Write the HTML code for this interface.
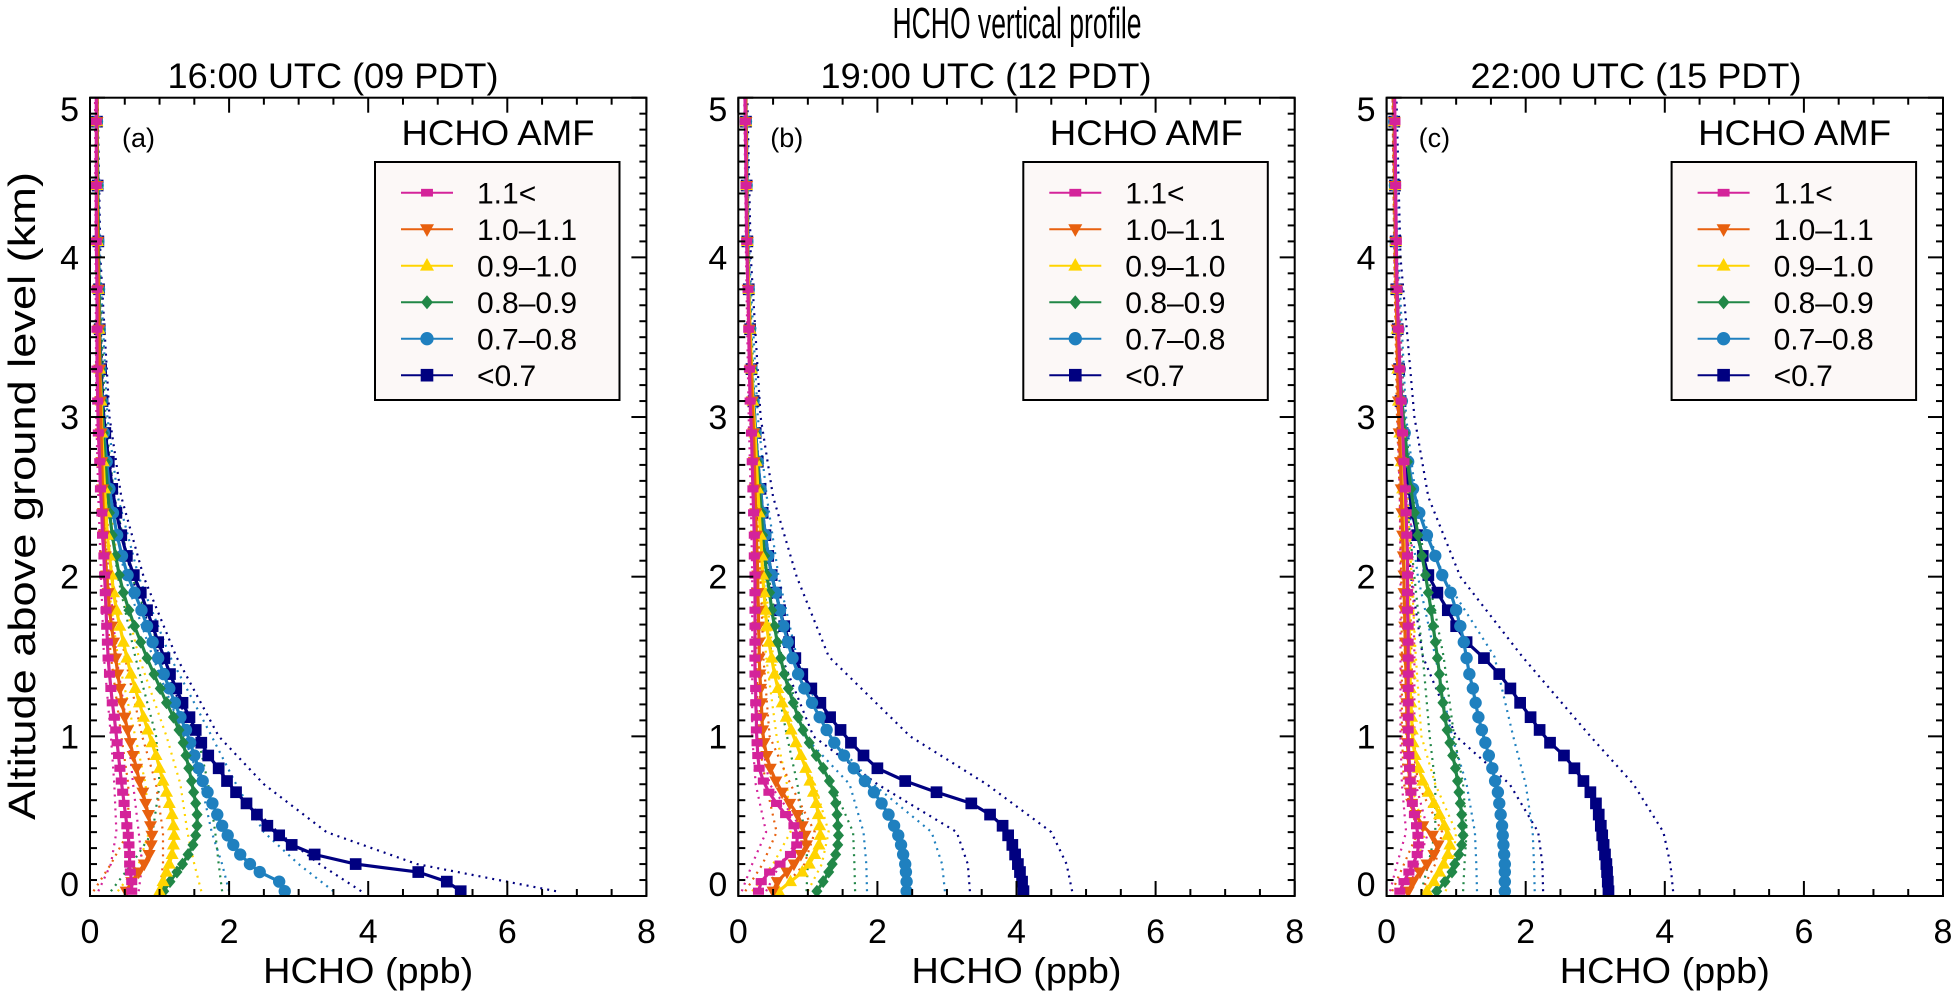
<!DOCTYPE html>
<html><head><meta charset="utf-8"><title>HCHO vertical profile</title>
<style>
html,body{margin:0;padding:0;background:#fff;}
svg{display:block;font-family:"Liberation Sans",Arial,sans-serif;}
</style></head>
<body>
<svg id="chart" width="1957" height="992" viewBox="0 0 1957 992" xmlns="http://www.w3.org/2000/svg">
<text x="1017" y="38" font-size="44" text-anchor="middle" textLength="249" lengthAdjust="spacingAndGlyphs">HCHO vertical profile</text>
<text transform="translate(35,496) rotate(-90)" font-size="38" text-anchor="middle" textLength="648" lengthAdjust="spacingAndGlyphs">Altitude above ground level (km)</text>
<g id="panels"></g>
</svg>
<script>
// ---- data ----
const altitudes = [0.03,0.09,0.15,0.2,0.26,0.32,0.38,0.44,0.51,0.58,0.65,0.72,0.8,0.88,0.96,1.04,1.12,1.21,1.3,1.39,1.49,1.59,1.69,1.79,1.9,2.01,2.13,2.26,2.4,2.55,2.72,2.9,3.1,3.3,3.55,3.8,4.1,4.45,4.85,5.2];
const dotAltitudes = [0.03,0.2,0.4,0.7,1.0,1.5,2.0,2.5,3.0,4.0,5.2];
const amfBins = ["1.1<","1.0\u20131.1","0.9\u20131.0","0.8\u20130.9","0.7\u20130.8","<0.7"];
const panelTitles = ["16:00 UTC (09 PDT)","19:00 UTC (12 PDT)","22:00 UTC (15 PDT)"];
const panelLetters = ["(a)","(b)","(c)"];
const xTickLabels = [0,2,4,6,8];
const yTickLabels = [0,1,2,3,4,5];

// panel a (order: pink, orange, yellow, green, lightblue, navy)
const a_pink   = [0.6,0.6,0.58,0.57,0.57,0.56,0.55,0.53,0.51,0.49,0.47,0.45,0.43,0.41,0.39,0.37,0.35,0.32,0.3,0.28,0.26,0.25,0.24,0.23,0.22,0.21,0.2,0.18,0.17,0.15,0.14,0.12,0.11,0.1,0.1,0.1,0.09,0.09,0.09,0.09];
const a_orange = [0.52,0.6,0.7,0.78,0.85,0.88,0.89,0.87,0.84,0.8,0.76,0.71,0.67,0.62,0.58,0.54,0.5,0.46,0.43,0.4,0.37,0.34,0.31,0.28,0.26,0.24,0.22,0.2,0.19,0.18,0.17,0.16,0.15,0.14,0.13,0.12,0.11,0.1,0.1,0.1];
const a_yellow = [1.0,1.05,1.1,1.14,1.18,1.2,1.21,1.2,1.18,1.14,1.1,1.05,1.0,0.95,0.89,0.83,0.77,0.71,0.65,0.59,0.53,0.48,0.43,0.38,0.34,0.31,0.28,0.25,0.23,0.21,0.19,0.17,0.16,0.14,0.13,0.12,0.11,0.1,0.1,0.1];
const a_green  = [1.06,1.15,1.25,1.33,1.41,1.48,1.52,1.54,1.54,1.52,1.49,1.46,1.42,1.38,1.34,1.28,1.2,1.1,1.01,0.92,0.82,0.73,0.64,0.56,0.48,0.42,0.37,0.32,0.28,0.25,0.22,0.19,0.17,0.15,0.14,0.13,0.12,0.11,0.1,0.1];
const a_lblue  = [2.8,2.72,2.44,2.3,2.16,2.06,1.98,1.9,1.83,1.76,1.69,1.62,1.56,1.5,1.44,1.38,1.3,1.22,1.14,1.06,0.98,0.9,0.82,0.74,0.64,0.54,0.46,0.39,0.33,0.28,0.24,0.2,0.17,0.15,0.14,0.13,0.12,0.11,0.1,0.1];
const a_navy   = [5.33,5.13,4.72,3.82,3.23,2.9,2.72,2.55,2.4,2.25,2.1,1.97,1.85,1.7,1.6,1.52,1.43,1.33,1.24,1.15,1.07,0.98,0.9,0.82,0.73,0.63,0.53,0.45,0.38,0.32,0.27,0.22,0.18,0.16,0.14,0.13,0.12,0.11,0.1,0.1];
const a_pink_hi=[0.7,0.75,0.7,0.62,0.55,0.38,0.28,0.2,0.14,0.1,0.09], a_pink_lo=[0.12,0.3,0.38,0.35,0.3,0.2,0.16,0.12,0.09,0.08,0.07];
const a_orange_hi=[1.0,1.05,1.05,0.95,0.75,0.5,0.32,0.22,0.16,0.11,0.1], a_orange_lo=[0.05,0.3,0.55,0.55,0.45,0.3,0.2,0.15,0.11,0.09,0.08];
const a_yellow_hi=[1.6,1.5,1.4,1.3,1.1,0.7,0.42,0.28,0.18,0.12,0.1], a_yellow_lo=[0.4,0.7,0.85,0.8,0.65,0.4,0.25,0.18,0.13,0.1,0.09];
const a_green_hi=[1.9,1.85,1.8,1.7,1.55,1.05,0.6,0.35,0.22,0.13,0.1], a_green_lo=[0.3,0.6,0.9,1.0,0.95,0.65,0.4,0.25,0.16,0.11,0.1];
const a_lblue_hi=[3.5,3.0,2.5,2.1,1.75,1.15,0.7,0.4,0.25,0.14,0.1], a_lblue_lo=[2.0,1.9,1.75,1.6,1.35,0.9,0.5,0.3,0.18,0.12,0.1];
const a_navy_hi=[6.7,4.7,3.4,2.5,1.85,1.24,0.77,0.45,0.28,0.15,0.1], a_navy_lo=[3.9,3.3,2.7,2.0,1.5,1.0,0.6,0.35,0.2,0.12,0.1];

// panel b
const b_pink   = [0.29,0.33,0.45,0.6,0.75,0.84,0.85,0.8,0.68,0.55,0.44,0.36,0.3,0.28,0.27,0.26,0.26,0.25,0.25,0.24,0.24,0.24,0.24,0.24,0.24,0.24,0.23,0.23,0.22,0.21,0.2,0.19,0.17,0.16,0.15,0.14,0.12,0.11,0.1,0.09];
const b_orange = [0.5,0.56,0.7,0.8,0.9,0.98,0.96,0.92,0.85,0.74,0.63,0.54,0.46,0.41,0.37,0.35,0.34,0.33,0.32,0.31,0.3,0.3,0.29,0.29,0.28,0.28,0.27,0.26,0.25,0.24,0.23,0.22,0.2,0.18,0.16,0.14,0.13,0.12,0.11,0.1];
const b_yellow = [0.58,0.75,0.92,1.02,1.1,1.16,1.18,1.17,1.15,1.12,1.08,1.03,0.97,0.9,0.83,0.76,0.69,0.63,0.57,0.52,0.48,0.44,0.41,0.39,0.37,0.35,0.34,0.32,0.3,0.28,0.26,0.24,0.21,0.19,0.17,0.15,0.13,0.12,0.11,0.1];
const b_green  = [1.13,1.22,1.3,1.35,1.4,1.43,1.44,1.43,1.42,1.4,1.37,1.31,1.22,1.12,1.02,0.93,0.86,0.79,0.72,0.66,0.61,0.56,0.52,0.48,0.45,0.41,0.38,0.35,0.33,0.3,0.27,0.24,0.21,0.19,0.17,0.15,0.13,0.12,0.11,0.1];
const b_lblue  = [2.42,2.42,2.41,2.4,2.37,2.34,2.3,2.24,2.16,2.06,1.95,1.82,1.66,1.52,1.38,1.27,1.17,1.06,0.95,0.86,0.78,0.71,0.65,0.6,0.54,0.48,0.43,0.39,0.35,0.32,0.28,0.25,0.22,0.19,0.17,0.15,0.13,0.12,0.11,0.1];
const b_navy   = [4.1,4.08,4.05,4.02,3.98,3.94,3.88,3.8,3.62,3.35,2.85,2.4,2.0,1.8,1.62,1.47,1.32,1.18,1.05,0.92,0.82,0.73,0.66,0.6,0.54,0.48,0.43,0.39,0.35,0.32,0.28,0.25,0.22,0.19,0.17,0.15,0.13,0.12,0.11,0.1];
const b_pink_hi=[0.4,0.6,0.95,0.45,0.32,0.3,0.28,0.25,0.19,0.13,0.1], b_pink_lo=[0.05,0.2,0.4,0.25,0.2,0.2,0.2,0.18,0.15,0.11,0.08];
const b_orange_hi=[0.6,0.95,1.1,0.75,0.45,0.36,0.32,0.27,0.2,0.13,0.1], b_orange_lo=[0.1,0.35,0.55,0.4,0.28,0.26,0.24,0.22,0.17,0.12,0.09];
const b_yellow_hi=[1.0,1.2,1.3,1.1,0.8,0.5,0.38,0.3,0.22,0.14,0.1], b_yellow_lo=[0.2,0.5,0.75,0.7,0.55,0.4,0.32,0.26,0.2,0.13,0.09];
const b_green_hi=[1.68,1.67,1.65,1.35,0.98,0.62,0.44,0.33,0.24,0.15,0.11], b_green_lo=[0.98,1.0,0.95,0.85,0.7,0.48,0.36,0.28,0.2,0.13,0.1];
const b_lblue_hi=[2.97,2.93,2.78,1.94,1.32,0.84,0.58,0.41,0.28,0.16,0.11], b_lblue_lo=[1.85,1.84,1.8,1.6,0.95,0.6,0.4,0.3,0.22,0.14,0.1];
const b_navy_hi=[4.8,4.72,4.5,3.57,2.47,1.3,0.84,0.5,0.32,0.18,0.12], b_navy_lo=[3.33,3.3,3.14,2.0,1.08,0.62,0.43,0.3,0.22,0.14,0.1];

// panel c
const c_pink   = [0.19,0.25,0.32,0.38,0.44,0.46,0.45,0.43,0.4,0.37,0.35,0.34,0.33,0.32,0.31,0.31,0.31,0.31,0.31,0.31,0.31,0.31,0.31,0.3,0.3,0.3,0.3,0.29,0.28,0.27,0.25,0.23,0.21,0.19,0.17,0.15,0.14,0.13,0.12,0.11];
const c_orange = [0.31,0.38,0.48,0.58,0.68,0.74,0.66,0.52,0.42,0.36,0.34,0.33,0.32,0.31,0.3,0.3,0.29,0.29,0.28,0.28,0.27,0.27,0.26,0.26,0.25,0.25,0.24,0.23,0.22,0.21,0.2,0.18,0.17,0.16,0.15,0.14,0.13,0.12,0.11,0.1];
const c_yellow = [0.58,0.68,0.76,0.82,0.88,0.91,0.88,0.83,0.76,0.68,0.6,0.52,0.46,0.41,0.38,0.37,0.36,0.35,0.34,0.34,0.33,0.33,0.32,0.32,0.31,0.3,0.29,0.27,0.25,0.23,0.21,0.19,0.17,0.16,0.15,0.14,0.13,0.12,0.11,0.1];
const c_green  = [0.72,0.84,0.94,0.98,1.04,1.08,1.1,1.09,1.08,1.06,1.04,1.02,0.99,0.95,0.91,0.87,0.84,0.81,0.78,0.76,0.73,0.7,0.67,0.64,0.6,0.56,0.51,0.45,0.4,0.35,0.3,0.26,0.22,0.19,0.17,0.15,0.13,0.12,0.11,0.1];
const c_lblue  = [1.7,1.7,1.7,1.7,1.69,1.68,1.67,1.66,1.64,1.62,1.6,1.56,1.52,1.47,1.42,1.37,1.32,1.28,1.24,1.19,1.15,1.11,1.06,1.0,0.92,0.8,0.7,0.58,0.47,0.38,0.31,0.26,0.22,0.19,0.17,0.15,0.13,0.12,0.11,0.1];
const c_navy   = [3.19,3.18,3.17,3.16,3.14,3.12,3.1,3.08,3.05,3.01,2.93,2.83,2.7,2.55,2.35,2.2,2.07,1.92,1.78,1.62,1.4,1.15,1.0,0.88,0.73,0.6,0.52,0.44,0.37,0.32,0.27,0.23,0.2,0.18,0.16,0.14,0.13,0.12,0.11,0.1];
const c_pink_hi=[0.3,0.45,0.6,0.42,0.4,0.4,0.38,0.33,0.25,0.15,0.11], c_pink_lo=[0.05,0.15,0.28,0.22,0.2,0.2,0.2,0.19,0.16,0.11,0.08];
const c_orange_hi=[0.5,0.7,0.8,0.45,0.38,0.36,0.33,0.28,0.21,0.13,0.1], c_orange_lo=[0.08,0.25,0.45,0.25,0.22,0.22,0.21,0.19,0.15,0.11,0.08];
const c_yellow_hi=[0.85,0.95,1.0,0.7,0.5,0.42,0.36,0.3,0.22,0.14,0.1], c_yellow_lo=[0.3,0.45,0.55,0.35,0.28,0.26,0.25,0.22,0.17,0.12,0.09];
const c_green_hi=[1.1,1.12,1.15,1.1,0.97,0.82,0.6,0.38,0.26,0.15,0.11], c_green_lo=[0.5,0.6,0.7,0.7,0.62,0.52,0.4,0.28,0.2,0.13,0.09];
const c_lblue_hi=[2.13,2.12,2.1,2.0,1.82,1.55,0.82,0.42,0.28,0.17,0.11], c_lblue_lo=[1.3,1.29,1.27,1.15,0.94,0.7,0.45,0.3,0.22,0.14,0.1];
const c_navy_hi=[4.12,4.08,3.98,3.55,2.93,1.95,1.06,0.6,0.4,0.2,0.13], c_navy_lo=[2.25,2.24,2.18,1.77,1.0,0.52,0.35,0.25,0.18,0.12,0.09];

const panelSolid = [
  [a_pink,a_orange,a_yellow,a_green,a_lblue,a_navy],
  [b_pink,b_orange,b_yellow,b_green,b_lblue,b_navy],
  [c_pink,c_orange,c_yellow,c_green,c_lblue,c_navy]];
const panelHi = [
  [a_pink_hi,a_orange_hi,a_yellow_hi,a_green_hi,a_lblue_hi,a_navy_hi],
  [b_pink_hi,b_orange_hi,b_yellow_hi,b_green_hi,b_lblue_hi,b_navy_hi],
  [c_pink_hi,c_orange_hi,c_yellow_hi,c_green_hi,c_lblue_hi,c_navy_hi]];
const panelLo = [
  [a_pink_lo,a_orange_lo,a_yellow_lo,a_green_lo,a_lblue_lo,a_navy_lo],
  [b_pink_lo,b_orange_lo,b_yellow_lo,b_green_lo,b_lblue_lo,b_navy_lo],
  [c_pink_lo,c_orange_lo,c_yellow_lo,c_green_lo,c_lblue_lo,c_navy_lo]];

// ---- styling / layout ----
const colors = ["#d4239a","#e8600e","#ffd400","#218747","#1f80bf","#000080"];
const markers = ["rect","tridown","triup","diamond","circle","square"];
const seriesKeys = ["gt-1-1","1-0-to-1-1","0-9-to-1-0","0-8-to-0-9","0-7-to-0-8","lt-0-7"];
const X0s = [90, 738.3, 1386.6];
const PW = 556.4, YTOP = 97.7, YBOT = 896, XMAX = 8, YMAX = 5;
const NS = "http://www.w3.org/2000/svg";
const root = document.getElementById('panels');

function xs(p, v){ return X0s[p] + v/XMAX*PW; }
function ys(a){ return YBOT - a/YMAX*(YBOT-YTOP); }
function mk(tag, attrs, parent){
  const e = document.createElementNS(NS, tag);
  for (const k in attrs) e.setAttribute(k, attrs[k]);
  parent.appendChild(e);
  return e;
}
function marker(type, cx, cy, color, parent, s){
  let e;
  if (type==="rect") e = mk('rect',{x:cx-s*0.85,y:cy-s*0.55,width:s*1.7,height:s*1.1,fill:color},parent);
  else if (type==="square") e = mk('rect',{x:cx-s*0.9,y:cy-s*0.9,width:s*1.8,height:s*1.8,fill:color},parent);
  else if (type==="circle") e = mk('circle',{cx:cx,cy:cy,r:s*0.95,fill:color},parent);
  else if (type==="diamond") e = mk('polygon',{points:`${cx},${cy-s} ${cx+s*0.85},${cy} ${cx},${cy+s} ${cx-s*0.85},${cy}`,fill:color},parent);
  else if (type==="triup") e = mk('polygon',{points:`${cx},${cy-s*1.1} ${cx+s},${cy+s*0.7} ${cx-s},${cy+s*0.7}`,fill:color},parent);
  else e = mk('polygon',{points:`${cx},${cy+s*1.1} ${cx+s},${cy-s*0.7} ${cx-s},${cy-s*0.7}`,fill:color},parent);
  return e;
}

for (let p=0; p<3; p++){
  const x0 = X0s[p];
  const g = mk('g',{},root);
  
  

  const clip = mk('clipPath',{id:'clip'+p},g);
  mk('rect',{x:x0,y:YTOP,width:PW,height:YBOT-YTOP},clip);

  const t = mk('text',{x:[333,986,1636][p],y:88,'font-size':35,'text-anchor':'middle',textLength:331,lengthAdjust:'spacingAndGlyphs'},g);
  t.textContent = panelTitles[p];
  
  

  const plot = mk('g',{'clip-path':`url(#clip${p})`},g);
  
  

  for (let s=5; s>=0; s--){
    [panelHi[p][s], panelLo[p][s]].forEach((arr, k)=>{
      const pts = arr.map((v,i)=>`${xs(p,v).toFixed(1)},${ys(dotAltitudes[i]).toFixed(1)}`).join(' ');
      const pl = mk('polyline',{points:pts,fill:'none',stroke:colors[s],'stroke-width':2.2,'stroke-dasharray':'2 5'},plot);
      
      
    });
  }
  for (let s=5; s>=0; s--){
    const sg = mk('g',{},plot);
    
    
    const arr = panelSolid[p][s];
    const pts = arr.map((v,i)=>`${xs(p,v).toFixed(1)},${ys(altitudes[i]).toFixed(1)}`).join(' ');
    mk('polyline',{points:pts,fill:'none',stroke:colors[s],'stroke-width':3.2,'stroke-linejoin':'round'},sg);
    arr.forEach((v,i)=>{
      const m = marker(markers[s], xs(p,v), ys(altitudes[i]), colors[s], sg, 6.5);
      
      
    });
  }

  const ax = mk('g',{stroke:'#000','stroke-width':2,fill:'none'},g);
  
  
  mk('rect',{x:x0,y:YTOP,width:PW,height:YBOT-YTOP},ax);
  for (let v=0; v<=XMAX+1e-9; v+=0.5){
    const X = xs(p,v), L = (Math.abs(v%2)<1e-9)?15:7;
    mk('line',{x1:X,y1:YBOT,x2:X,y2:YBOT-L},ax);
    mk('line',{x1:X,y1:YTOP,x2:X,y2:YTOP+L},ax);
  }
  for (let i=0; i<=50; i++){
    const Y = ys(i/10), L = (i%10===0)?15:7;
    mk('line',{x1:x0,y1:Y,x2:x0+L,y2:Y},ax);
    mk('line',{x1:x0+PW,y1:Y,x2:x0+PW-L,y2:Y},ax);
  }
  xTickLabels.forEach(v=>{
    const tl = mk('text',{x:xs(p,v),y:943,'font-size':34,'text-anchor':'middle'},g);
    tl.textContent = v;
    
    
  });
  yTickLabels.forEach(v=>{
    const cy = Math.min(884, Math.max(109, ys(v)));
    const tl = mk('text',{x:x0-11,y:cy+12,'font-size':34,'text-anchor':'end'},g);
    tl.textContent = v;
    
    
  });
  const xt = mk('text',{x:x0+PW/2,y:983,'font-size':36,'text-anchor':'middle',textLength:210,lengthAdjust:'spacingAndGlyphs'},g);
  xt.textContent = 'HCHO (ppb)';
  
  

  const pl = mk('text',{x:x0+32,y:147,'font-size':27},g);
  pl.textContent = panelLetters[p];
  
  

  const lg = mk('g',{},g);
  
  
  const lt = mk('text',{x:x0+408,y:145,'font-size':35,'text-anchor':'middle',textLength:193,lengthAdjust:'spacingAndGlyphs'},lg);
  lt.textContent = 'HCHO AMF';
  
  
  mk('rect',{x:x0+285,y:162,width:244.5,height:238,fill:'#fcf8f7',stroke:'#000','stroke-width':2},lg);
  amfBins.forEach((lab,i)=>{
    const cy = 192.7 + 36.5*i;
    const le = mk('g',{},lg);
    
    
    mk('line',{x1:x0+311,y1:cy,x2:x0+363,y2:cy,stroke:colors[i],'stroke-width':2},le);
    marker(markers[i], x0+337, cy, colors[i], le, 7);
    const tx = mk('text',{x:x0+387,y:cy+11,'font-size':30},le);
    tx.textContent = lab;
  });
}
</script>
</body></html>
